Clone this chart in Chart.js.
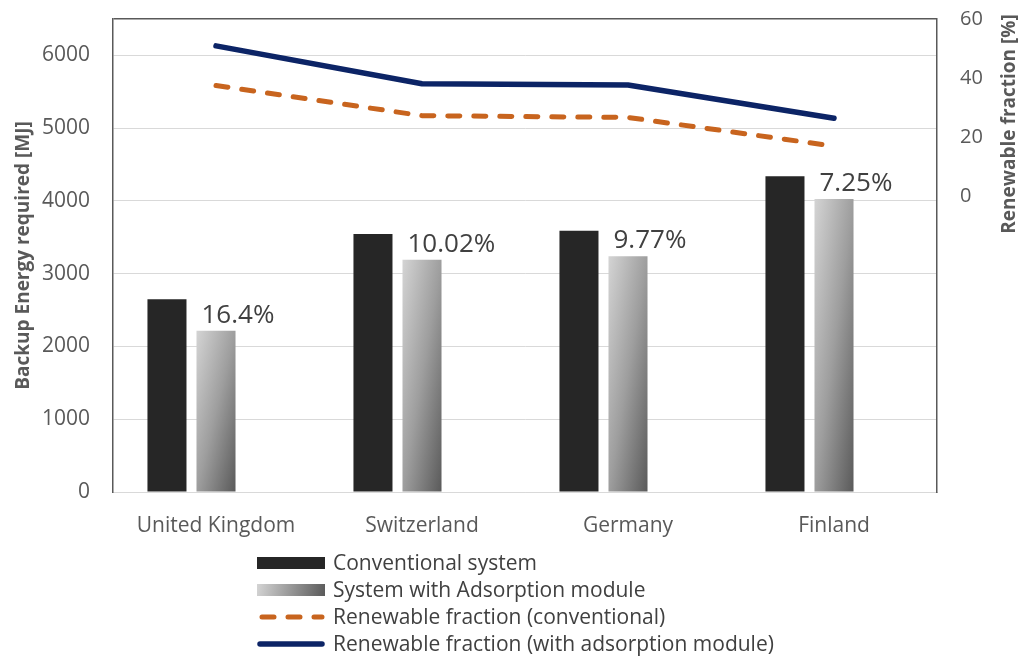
<!DOCTYPE html>
<html>
<head>
<meta charset="utf-8">
<title>Backup energy</title>
<script src="https://cdn.jsdelivr.net/npm/chart.js@4.4.1/dist/chart.umd.min.js"></script>
<style>
  html, body { margin: 0; padding: 0; background: #fff; }
</style>
</head>
<body>
<canvas id="backupChart" width="1018" height="656"></canvas>
<script>
// Backup energy per country, bars on the left axis, renewable fraction lines on the right
var countries = ["United Kingdom", "Switzerland", "Germany", "Finland"];
var conventional = [2650, 3545, 3590, 4340];
var withAdsorption = [2215, 3190, 3240, 4025];
var savingLabels = ["16.4%", "10.02%", "9.77%", "7.25%"];
var renewableConventional = [37.5, 27.3, 26.7, 17.0];
var renewableAdsorption = [50.9, 38.1, 37.7, 26.4];
var energyTicks = [0, 1000, 2000, 3000, 4000, 5000, 6000];
var fractionTicks = [0, 20, 40, 60];
var ENERGY_MAX = 6500;

var FONT = "'Open Sans', sans-serif";
var GREY_TEXT = '#595959';

Chart.defaults.font.family = FONT;
Chart.defaults.color = GREY_TEXT;

// diagonal gray gradient on each adsorption bar (light top-left, dark bottom-right)
var barGradient = {
  id: 'barGradient',
  beforeDatasetsDraw: function(chart) {
    var ctx = chart.ctx;
    chart.getDatasetMeta(1).data.forEach(function(bar) {
      var left = bar.x - bar.width / 2;
      var w = bar.width, h = bar.base - bar.y;
      var k = 2 * w * h / (w * w + h * h);
      var g = ctx.createLinearGradient(left, bar.y, left + h * k, bar.y + w * k);
      g.addColorStop(0, '#d4d4d4');
      g.addColorStop(0.5, '#9e9e9e');
      g.addColorStop(1, '#5a5a5a');
      bar.options = Object.assign({}, bar.options, { backgroundColor: g });
    });
  }
};

// reduction percentages written above the adsorption bars
var savingText = {
  id: 'savingText',
  afterDatasetsDraw: function(chart) {
    var ctx = chart.ctx;
    ctx.save();
    ctx.font = '26px ' + FONT;
    ctx.fillStyle = '#404040';
    ctx.textAlign = 'left';
    ctx.textBaseline = 'alphabetic';
    chart.getDatasetMeta(1).data.forEach(function(bar, i) {
      ctx.fillText(savingLabels[i], bar.x - bar.width / 2 + 5, bar.y - 8);
    });
    ctx.restore();
  }
};

// one-item-per-row legend under the chart, plus the right axis title
var stackedLegend = {
  id: 'stackedLegend',
  afterDraw: function(chart) {
    var ctx = chart.ctx;
    var x0 = 257, w = 68, y0 = 563, step = 27;
    ctx.save();
    ctx.font = '21px ' + FONT;
    ctx.textBaseline = 'middle';
    ctx.textAlign = 'left';
    var row = 0;
    chart.data.datasets.forEach(function(ds, i) {
      if (!ds.label) return;
      var y = y0 + row * step;
      if (ds.type === 'line') {
        ctx.beginPath();
        ctx.strokeStyle = ds.borderColor;
        ctx.lineWidth = ds.borderWidth;
        ctx.lineCap = 'round';
        ctx.setLineDash(ds.borderDash || []);
        ctx.lineDashOffset = -2;
        ctx.moveTo(x0 + 3, y);
        ctx.lineTo(x0 + w - 3, y);
        ctx.stroke();
        ctx.setLineDash([]);
      } else if (i === 1) {
        var g = ctx.createLinearGradient(x0, y - 6, x0 + w, y + 6);
        g.addColorStop(0, '#d4d4d4');
        g.addColorStop(1, '#5a5a5a');
        ctx.fillStyle = g;
        ctx.fillRect(x0, y - 6, w, 12);
      } else {
        ctx.fillStyle = ds.backgroundColor;
        ctx.fillRect(x0, y - 6, w, 12);
      }
      ctx.fillStyle = '#404040';
      ctx.fillText(ds.label, x0 + w + 8, y + 1);
      row++;
    });

    ctx.translate(1010, 124);
    ctx.rotate(-Math.PI / 2);
    ctx.font = 'bold 19px ' + FONT;
    ctx.fillStyle = GREY_TEXT;
    ctx.textAlign = 'center';
    ctx.fillText('Renewable fraction [%]', 0, 0);
    ctx.restore();
  }
};

// fixed axis widths; drop the extra top/bottom room chart.js adds for tick labels
function fixWidth(width) {
  return function(scale) {
    scale.width = width;
    scale.paddingTop = 0;
    scale.paddingBottom = 0;
  };
}

var chart = new Chart(document.getElementById('backupChart'), {
  type: 'bar',
  data: {
    labels: countries,
    datasets: [
      {
        label: 'Conventional system',
        data: conventional,
        backgroundColor: '#262626',
        yAxisID: 'y',
        order: 2
      },
      {
        label: 'System with Adsorption module',
        data: withAdsorption,
        backgroundColor: '#a6a6a6',
        yAxisID: 'y',
        order: 2
      },
      {
        // empty slot that keeps the group the same width as the spreadsheet one
        label: '',
        data: [null, null, null, null],
        yAxisID: 'y',
        order: 2
      },
      {
        type: 'line',
        label: 'Renewable fraction (conventional)',
        data: renewableConventional,
        borderColor: '#c8641e',
        borderWidth: 5,
        borderDash: [12, 14],
        borderCapStyle: 'round',
        borderJoinStyle: 'round',
        pointRadius: 0,
        tension: 0,
        fill: false,
        yAxisID: 'y1',
        order: 1
      },
      {
        type: 'line',
        label: 'Renewable fraction (with adsorption module)',
        data: renewableAdsorption,
        borderColor: '#0c2466',
        borderWidth: 5.5,
        borderCapStyle: 'round',
        borderJoinStyle: 'round',
        pointRadius: 0,
        tension: 0,
        fill: false,
        yAxisID: 'y1',
        order: 1
      }
    ]
  },
  options: {
    responsive: false,
    animation: false,
    datasets: {
      bar: {
        categoryPercentage: 0.714,
        barPercentage: 0.796
      }
    },
    layout: {
      padding: { top: 19, bottom: 114, left: 0, right: 0 }
    },
    plugins: {
      legend: { display: false },
      tooltip: { enabled: false }
    },
    scales: {
      x: {
        grid: { display: false },
        border: { display: true, color: '#d9d9d9', width: 1 },
        ticks: {
          font: { size: 21 },
          color: GREY_TEXT,
          padding: 13,
          maxRotation: 0
        },
        afterFit: function(scale) { scale.height = 50; }
      },
      y: {
        position: 'left',
        min: 0,
        max: ENERGY_MAX,
        border: { display: true, color: '#595959', width: 1.5 },
        grid: {
          drawTicks: false,
          lineWidth: function(ctx) { return ctx.tick && ctx.tick.value === ENERGY_MAX ? 1.5 : 1; },
          color: function(ctx) { return ctx.tick && ctx.tick.value === ENERGY_MAX ? '#595959' : '#d9d9d9'; }
        },
        afterBuildTicks: function(scale) {
          scale.ticks = energyTicks.concat([ENERGY_MAX]).map(function(v) { return { value: v }; });
        },
        ticks: {
          padding: 23,
          font: { size: 21 },
          color: GREY_TEXT,
          callback: function(v) { return v === ENERGY_MAX ? '' : v; }
        },
        title: {
          display: true,
          text: 'Backup Energy required [MJ]',
          font: { size: 19, weight: 'bold' },
          color: GREY_TEXT,
          padding: { top: 12, bottom: 0 }
        },
        afterFit: fixWidth(113)
      },
      y1: {
        position: 'right',
        min: -100,
        max: 60,
        border: { display: true, color: '#595959', width: 1.5 },
        grid: { display: false, drawTicks: false },
        afterBuildTicks: function(scale) {
          scale.ticks = [-100].concat(fractionTicks).map(function(v) { return { value: v }; });
        },
        ticks: {
          padding: 23,
          font: { size: 20 },
          color: GREY_TEXT,
          callback: function(v) { return fractionTicks.indexOf(v) >= 0 ? v : ''; }
        },
        afterFit: fixWidth(81)
      }
    }
  },
  plugins: [barGradient, savingText, stackedLegend]
});
</script>
</body>
</html>
